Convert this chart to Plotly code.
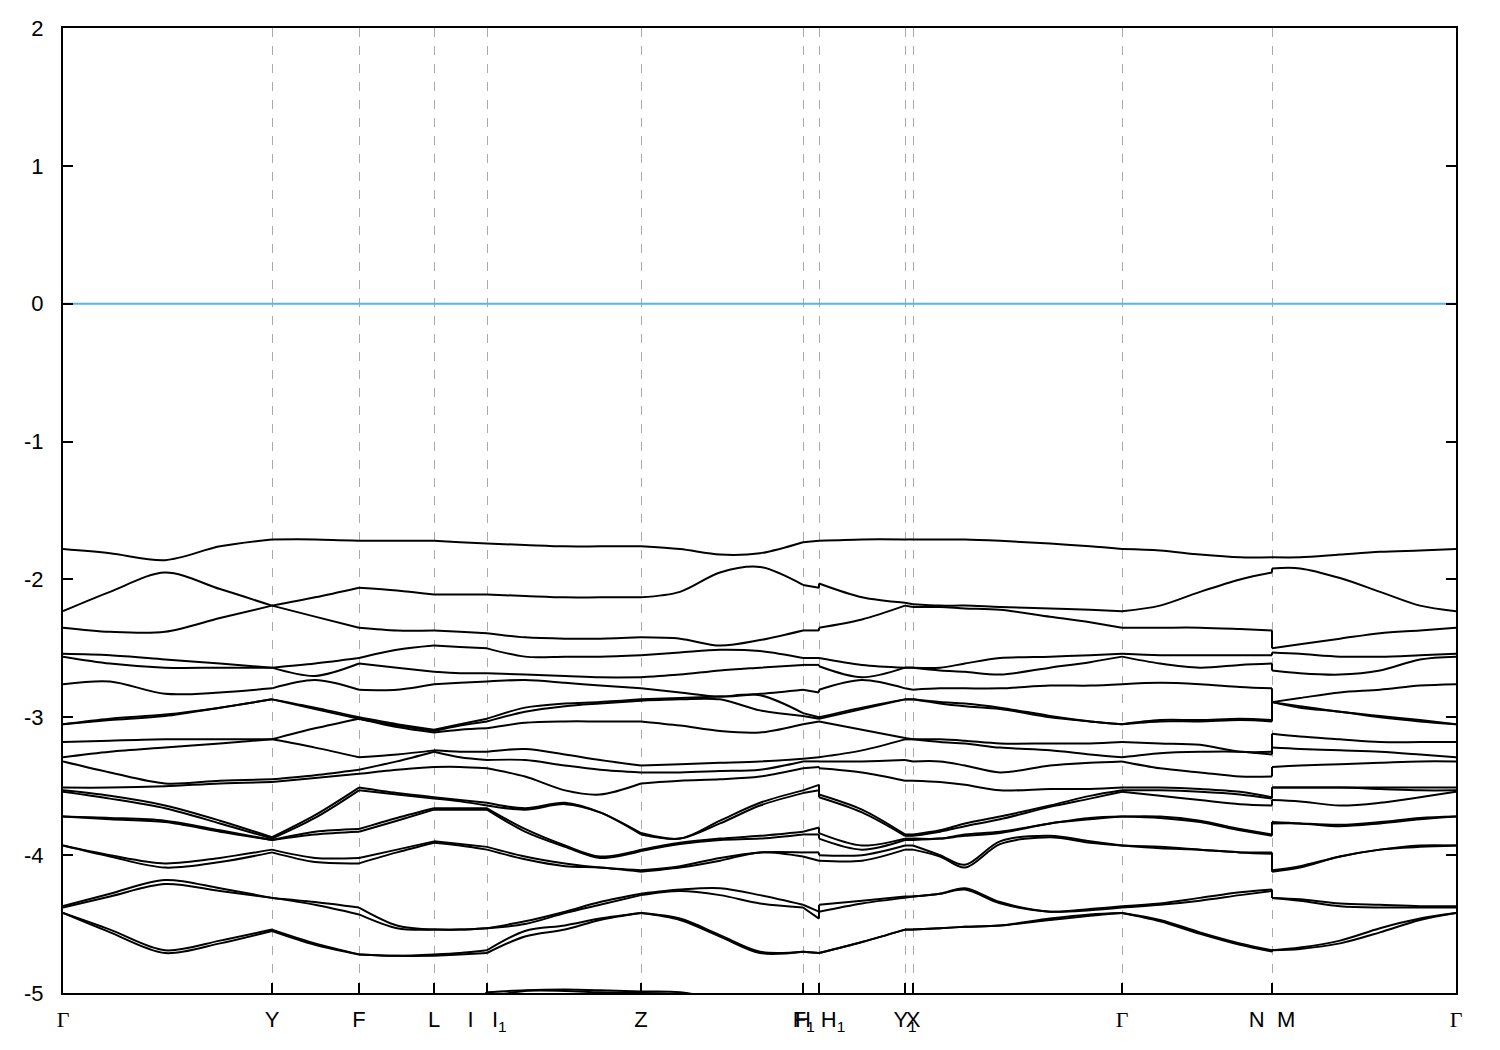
import plotly.graph_objects as go

# k-path distance of every sampled point (repeated value = path break)
k = [0.000, 0.188, 0.408, 0.628, 0.836, 1.008, 1.184, 1.336, 1.484, 1.588,
     1.696, 1.848, 2.008, 2.148, 2.312, 2.468, 2.628, 2.788, 2.960, 3.024,
     3.024, 3.196, 3.368, 3.400, 3.508, 3.608, 3.748, 3.948, 4.108, 4.236,
     4.388, 4.548, 4.708, 4.836, 4.836, 4.948, 5.108, 5.268, 5.428, 5.572]

# sorted band energies (eV) at each sampled k point
col_00 = [-1.78, -2.23, -2.35, -2.54, -2.56, -2.76, -3.05, -3.05, -3.18, -3.29, -3.32, -3.51, -3.53, -3.54, -3.72, -3.72, -3.93, -3.93, -4.37, -4.38, -4.42, -4.42]
col_01 = [-1.81, -2.09, -2.38, -2.55, -2.61, -2.74, -3.01, -3.02, -3.17, -3.25, -3.40, -3.51, -3.57, -3.59, -3.73, -3.74, -4.00, -4.01, -4.28, -4.30, -4.54, -4.56]
col_02 = [-1.86, -1.95, -2.38, -2.58, -2.64, -2.83, -2.98, -2.99, -3.16, -3.22, -3.48, -3.50, -3.64, -3.66, -3.75, -3.76, -4.06, -4.09, -4.18, -4.21, -4.69, -4.71]
col_03 = [-1.76, -2.07, -2.28, -2.61, -2.64, -2.82, -2.93, -2.93, -3.16, -3.19, -3.46, -3.48, -3.75, -3.77, -3.82, -3.83, -4.02, -4.05, -4.24, -4.26, -4.62, -4.64]
col_04 = [-1.71, -2.19, -2.19, -2.64, -2.64, -2.79, -2.87, -2.87, -3.16, -3.16, -3.45, -3.47, -3.87, -3.88, -3.89, -3.89, -3.96, -3.98, -4.31, -4.31, -4.54, -4.55]
col_05 = [-1.71, -2.13, -2.27, -2.61, -2.70, -2.73, -2.93, -2.94, -3.08, -3.22, -3.42, -3.44, -3.71, -3.73, -3.83, -3.85, -4.02, -4.05, -4.34, -4.36, -4.64, -4.65]
col_06 = [-1.72, -2.06, -2.35, -2.57, -2.61, -2.80, -3.00, -3.01, -3.01, -3.29, -3.38, -3.41, -3.51, -3.53, -3.81, -3.83, -4.02, -4.06, -4.38, -4.43, -4.72, -4.72]
col_07 = [-1.72, -2.08, -2.37, -2.51, -2.64, -2.80, -3.05, -3.06, -3.07, -3.27, -3.32, -3.38, -3.55, -3.56, -3.73, -3.75, -3.96, -3.98, -4.51, -4.53, -4.73, -4.73]
col_08 = [-1.72, -2.11, -2.37, -2.48, -2.67, -2.76, -3.09, -3.10, -3.11, -3.24, -3.25, -3.36, -3.58, -3.59, -3.66, -3.67, -3.90, -3.91, -4.54, -4.54, -4.72, -4.73]
col_09 = [-1.73, -2.11, -2.38, -2.49, -2.68, -2.75, -3.05, -3.06, -3.09, -3.25, -3.29, -3.36, -3.60, -3.61, -3.66, -3.67, -3.92, -3.93, -4.54, -4.54, -4.71, -4.72]
col_10 = [-1.74, -2.11, -2.39, -2.50, -2.68, -2.74, -3.01, -3.03, -3.08, -3.25, -3.31, -3.37, -3.62, -3.64, -3.66, -3.67, -3.94, -3.96, -4.53, -4.53, -4.69, -4.71]
col_11 = [-1.75, -2.12, -2.42, -2.56, -2.69, -2.73, -2.93, -2.96, -3.04, -3.23, -3.31, -3.43, -3.66, -3.67, -3.81, -3.83, -4.01, -4.03, -4.48, -4.50, -4.55, -4.59]
col_12 = [-1.76, -2.13, -2.43, -2.56, -2.70, -2.75, -2.90, -2.92, -3.03, -3.27, -3.35, -3.53, -3.62, -3.63, -3.93, -3.94, -4.06, -4.08, -4.41, -4.42, -4.51, -4.54]
col_13 = [-1.76, -2.13, -2.43, -2.56, -2.71, -2.77, -2.89, -2.90, -3.03, -3.31, -3.38, -3.56, -3.69, -3.69, -4.01, -4.02, -4.09, -4.09, -4.34, -4.36, -4.46, -4.47]
col_14 = [-1.76, -2.13, -2.42, -2.55, -2.71, -2.79, -2.87, -2.88, -3.03, -3.35, -3.40, -3.48, -3.84, -3.85, -3.96, -3.97, -4.11, -4.12, -4.28, -4.29, -4.42, -4.42]
col_15 = [-1.78, -2.09, -2.43, -2.53, -2.69, -2.82, -2.86, -2.87, -3.06, -3.34, -3.40, -3.46, -3.88, -3.88, -3.91, -3.92, -4.08, -4.09, -4.25, -4.26, -4.46, -4.47]
col_16 = [-1.82, -1.95, -2.48, -2.51, -2.66, -2.85, -2.85, -2.87, -3.10, -3.33, -3.39, -3.45, -3.75, -3.77, -3.88, -3.89, -4.02, -4.04, -4.24, -4.29, -4.58, -4.59]
col_17 = [-1.81, -1.91, -2.44, -2.52, -2.64, -2.83, -2.84, -2.95, -3.11, -3.32, -3.38, -3.43, -3.62, -3.64, -3.86, -3.88, -3.98, -3.98, -4.29, -4.35, -4.70, -4.71]
col_18 = [-1.73, -2.04, -2.37, -2.57, -2.62, -2.80, -2.97, -2.99, -3.05, -3.30, -3.32, -3.37, -3.53, -3.55, -3.83, -3.85, -3.98, -4.01, -4.36, -4.38, -4.70, -4.70]
col_19 = [-1.72, -2.06, -2.37, -2.57, -2.62, -2.82, -3.00, -3.01, -3.03, -3.29, -3.32, -3.36, -3.49, -3.53, -3.80, -3.85, -3.98, -4.04, -4.41, -4.46, -4.71, -4.71]
col_20 = [-1.72, -2.03, -2.35, -2.57, -2.63, -2.80, -3.00, -3.01, -3.03, -3.29, -3.32, -3.37, -3.56, -3.58, -3.84, -3.88, -4.00, -4.04, -4.36, -4.41, -4.71, -4.71]
col_21 = [-1.71, -2.13, -2.29, -2.62, -2.71, -2.73, -2.93, -2.94, -3.09, -3.24, -3.32, -3.40, -3.67, -3.69, -3.93, -3.96, -4.00, -4.04, -4.33, -4.35, -4.63, -4.63]
col_22 = [-1.71, -2.17, -2.19, -2.64, -2.64, -2.79, -2.87, -2.87, -3.15, -3.16, -3.31, -3.46, -3.85, -3.86, -3.88, -3.89, -3.93, -3.96, -4.30, -4.31, -4.54, -4.54]
col_23 = [-1.71, -2.18, -2.20, -2.64, -2.64, -2.80, -2.87, -2.87, -3.16, -3.16, -3.32, -3.46, -3.85, -3.86, -3.88, -3.89, -3.93, -3.96, -4.30, -4.30, -4.54, -4.54]
col_24 = [-1.71, -2.19, -2.20, -2.64, -2.66, -2.79, -2.89, -2.90, -3.16, -3.18, -3.32, -3.47, -3.82, -3.83, -3.88, -3.88, -4.00, -4.01, -4.28, -4.28, -4.53, -4.53]
col_25 = [-1.71, -2.19, -2.21, -2.61, -2.67, -2.79, -2.90, -2.92, -3.17, -3.19, -3.35, -3.49, -3.77, -3.79, -3.85, -3.86, -4.07, -4.09, -4.24, -4.25, -4.52, -4.52]
col_26 = [-1.72, -2.20, -2.22, -2.57, -2.69, -2.79, -2.93, -2.94, -3.19, -3.22, -3.40, -3.53, -3.72, -3.74, -3.83, -3.84, -3.90, -3.92, -4.34, -4.35, -4.51, -4.51]
col_27 = [-1.74, -2.21, -2.27, -2.56, -2.64, -2.77, -2.99, -3.00, -3.19, -3.24, -3.35, -3.52, -3.64, -3.65, -3.77, -3.77, -3.86, -3.87, -4.41, -4.41, -4.46, -4.47]
col_28 = [-1.76, -2.22, -2.31, -2.55, -2.60, -2.77, -3.03, -3.03, -3.19, -3.27, -3.33, -3.52, -3.57, -3.59, -3.73, -3.74, -3.90, -3.91, -4.39, -4.40, -4.43, -4.44]
col_29 = [-1.78, -2.23, -2.35, -2.54, -2.56, -2.76, -3.05, -3.05, -3.18, -3.29, -3.32, -3.51, -3.53, -3.54, -3.72, -3.72, -3.93, -3.93, -4.37, -4.38, -4.42, -4.42]
col_30 = [-1.79, -2.19, -2.35, -2.55, -2.61, -2.75, -3.02, -3.03, -3.19, -3.26, -3.37, -3.51, -3.53, -3.57, -3.72, -3.73, -3.94, -3.95, -4.35, -4.36, -4.47, -4.48]
col_31 = [-1.82, -2.09, -2.35, -2.55, -2.64, -2.76, -3.02, -3.03, -3.20, -3.25, -3.40, -3.52, -3.54, -3.60, -3.75, -3.76, -3.96, -3.96, -4.31, -4.33, -4.56, -4.57]
col_32 = [-1.84, -2.00, -2.36, -2.55, -2.62, -2.78, -3.01, -3.02, -3.25, -3.25, -3.43, -3.54, -3.56, -3.63, -3.81, -3.82, -3.98, -3.98, -4.27, -4.29, -4.64, -4.65]
col_33 = [-1.84, -1.95, -2.37, -2.55, -2.61, -2.79, -3.02, -3.03, -3.25, -3.27, -3.43, -3.58, -3.59, -3.64, -3.85, -3.86, -3.98, -3.99, -4.25, -4.26, -4.69, -4.70]
col_34 = [-1.84, -1.92, -2.50, -2.53, -2.66, -2.89, -2.89, -2.89, -3.12, -3.22, -3.36, -3.51, -3.51, -3.60, -3.76, -3.77, -4.11, -4.12, -4.31, -4.31, -4.69, -4.69]
col_35 = [-1.84, -1.92, -2.47, -2.54, -2.68, -2.86, -2.92, -2.93, -3.14, -3.23, -3.35, -3.51, -3.51, -3.61, -3.77, -3.77, -4.08, -4.09, -4.32, -4.33, -4.67, -4.68]
col_36 = [-1.82, -1.99, -2.43, -2.56, -2.69, -2.82, -2.96, -2.96, -3.16, -3.24, -3.34, -3.51, -3.51, -3.64, -3.78, -3.79, -4.01, -4.01, -4.35, -4.37, -4.62, -4.64]
col_37 = [-1.80, -2.09, -2.39, -2.56, -2.66, -2.80, -2.99, -3.00, -3.18, -3.25, -3.33, -3.51, -3.52, -3.62, -3.76, -3.77, -3.96, -3.96, -4.36, -4.38, -4.53, -4.56]
col_38 = [-1.79, -2.19, -2.37, -2.55, -2.58, -2.77, -3.02, -3.03, -3.18, -3.27, -3.32, -3.51, -3.53, -3.58, -3.73, -3.74, -3.93, -3.94, -4.37, -4.38, -4.46, -4.47]
col_39 = [-1.78, -2.23, -2.35, -2.54, -2.56, -2.76, -3.05, -3.05, -3.18, -3.29, -3.32, -3.51, -3.53, -3.54, -3.72, -3.72, -3.93, -3.93, -4.37, -4.38, -4.42, -4.42]

# two deep bands that only touch the bottom of the window near Z
deep_a = [-5.30, -5.30, -5.30, -5.30, -5.30, -5.30, -5.30, -5.30, -5.30, -5.15,
          -4.995, -4.98, -4.975, -4.98, -4.99, -4.995, -5.06, -5.30, -5.30, -5.30,
          -5.30, -5.30, -5.30, -5.30, -5.30, -5.30, -5.30, -5.30, -5.30, -5.30,
          -5.30, -5.30, -5.30, -5.30, -5.30, -5.30, -5.30, -5.30, -5.30, -5.30]
deep_b = [-5.40, -5.40, -5.40, -5.40, -5.40, -5.40, -5.40, -5.40, -5.40, -5.25,
          -5.03, -4.985, -4.985, -4.995, -5.00, -5.02, -5.15, -5.40, -5.40, -5.40,
          -5.40, -5.40, -5.40, -5.40, -5.40, -5.40, -5.40, -5.40, -5.40, -5.40,
          -5.40, -5.40, -5.40, -5.40, -5.40, -5.40, -5.40, -5.40, -5.40, -5.40]

# indices of the sampled points that sit on high-symmetry points / path breaks
sym_index = [0, 4, 6, 8, 10, 14, 18, 19, 20, 22, 23, 29, 33, 34, 39]

# high-symmetry tick positions and labels
sym_k = [0.000, 0.836, 1.184, 1.484, 1.696, 2.312, 2.960, 3.024, 3.368, 3.400, 4.236, 4.836, 5.572]
GAM = "<span style='font-family:Liberation Serif'>\u0393</span>"
NB = "\u00a0"
sym_labels = [GAM, "Y", "F", "L", "I" + NB * 3 + "I<sub>1</sub>", "Z", "H",
              "F<sub>1</sub>" + NB + "H<sub>1</sub>", "Y<sub>1</sub>", "X", GAM,
              "N" + NB * 2 + "M", GAM]

y_ticks = [2, 1, 0, -1, -2, -3, -4, -5]
y_ticktext = ["2", "1", "0", "-1", "-2", "-3", "-4", "-5"]

columns = [col_00, col_01, col_02, col_03, col_04, col_05, col_06, col_07, col_08, col_09,
           col_10, col_11, col_12, col_13, col_14, col_15, col_16, col_17, col_18, col_19,
           col_20, col_21, col_22, col_23, col_24, col_25, col_26, col_27, col_28, col_29,
           col_30, col_31, col_32, col_33, col_34, col_35, col_36, col_37, col_38, col_39]
bands = [list(b) for b in zip(*columns)] + [deep_a, deep_b]


def segmented(values):
    """Split a band at every high-symmetry point so kinks stay sharp."""
    xs, ys = [], []
    for a, b in zip(sym_index[:-1], sym_index[1:]):
        xs += k[a:b + 1] + [None]
        ys += values[a:b + 1] + [None]
    return xs, ys


fig = go.Figure()
for b in bands:
    xs, ys = segmented(b)
    fig.add_trace(go.Scatter(x=xs, y=ys, mode="lines", connectgaps=False,
                             line=dict(color="black", width=2, shape="spline", smoothing=0.9),
                             showlegend=False, hoverinfo="skip"))

fig.add_trace(go.Scatter(x=[k[0], k[-1]], y=[0, 0], mode="lines",
                         line=dict(color="#56b4e9", width=2),
                         showlegend=False, hoverinfo="skip"))

fig.update_layout(
    width=1500, height=1050,
    margin=dict(l=55, r=52, t=20, b=65, autoexpand=False),
    paper_bgcolor="white", plot_bgcolor="white",
    font=dict(family="Liberation Sans, Arial, sans-serif", size=22, color="black"),
    showlegend=False,
)
fig.update_xaxes(
    range=[k[0], k[-1]], automargin=False,
    tickmode="array", tickvals=sym_k, ticktext=sym_labels, tickangle=0,
    ticks="inside", ticklen=10, tickwidth=2, tickcolor="black",
    showline=True, linewidth=2, linecolor="black", mirror=True,
    showgrid=True, gridcolor="#aaaaaa", gridwidth=1, griddash="dash",
    zeroline=False, ticklabelstandoff=6,
)
fig.update_yaxes(
    range=[-5, 2], automargin=False,
    tickmode="array", tickvals=y_ticks, ticktext=y_ticktext,
    ticks="inside", ticklen=10, tickwidth=2, tickcolor="black",
    showline=True, linewidth=2, linecolor="black", mirror="ticks",
    showgrid=False, zeroline=False, ticklabelstandoff=13,
)

fig.write_html("out.html")
